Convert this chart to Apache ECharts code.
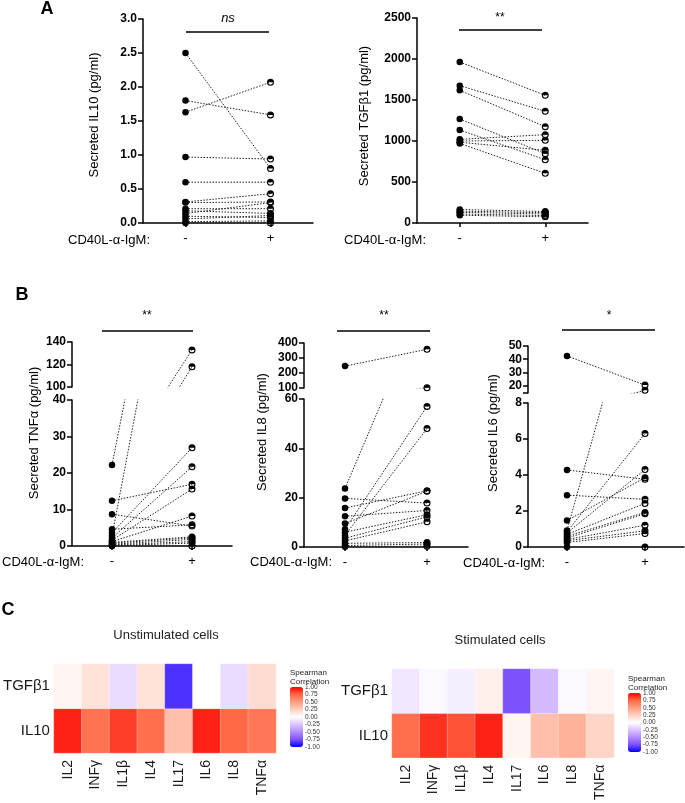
<!DOCTYPE html>
<html>
<head>
<meta charset="utf-8">
<script src="https://cdn.jsdelivr.net/npm/echarts@6/dist/echarts.min.js"></script>
<style>
html,body{margin:0;padding:0;background:#fff;}
#wrap{position:relative;width:685px;height:803px;background:#fff;}
.layer{position:absolute;left:0;top:0;width:685px;height:803px;}
</style>
</head>
<body>
<div id="wrap">
  <div class="layer" id="layerA"></div>
  <div class="layer" id="layerB"></div>
  <div class="layer" id="layerC"></div>
  <div class="layer" id="layerT"></div>
</div>
<script>
// ---------- DATA ----------
const xCategories = ['-', '+'];

// Panel A
const il10Minus = [2.50, 1.80, 1.63, 0.97, 0.60, 0.31, 0.30, 0.21, 0.18, 0.14, 0.10, 0.06, 0.02, 0.00];
const il10Plus  = [0.80, 1.59, 2.07, 0.94, 0.60, 0.43, 0.31, 0.21, 0.14, 0.30, 0.08, 0.11, 0.03, 0.00];

const tgfMinus = [1963, 1675, 1618, 1268, 1134, 1020, 1000, 985, 970, 165, 145, 130, 110, 95];
const tgfPlus  = [1557, 1362, 1175, 846, 772, 1077, 1008, 886, 606, 140, 125, 110, 90, 75];

// Panel B
const tnfMinus = [22.2, 12.4, 8.7, 4.6, 3.6, 2.8, 2.2, 1.6, 1.2, 1.0, 0.8, 0.5, 0.3, 0.1, 0];
const tnfPlus  = [133, 16.9, 5.5, 5.8, 26.9, 118, 21.7, 15.6, 8.2, 2.5, 2.2, 1.8, 1.2, 0.8, 0];

const il8Minus = [246, 23.7, 19.7, 15.8, 12.5, 9.5, 7.2, 6.0, 4.8, 3.6, 2.5, 1.5, 0.6, 0.1];
const il8Plus  = [358, 102, 17.8, 22.8, 14.8, 22.6, 57, 13.1, 48, 12.2, 10.2, 1.8, 1.2, 0.3];

const il6Minus = [42.5, 4.28, 2.88, 1.47, 0.92, 0.85, 0.78, 0.70, 0.60, 0.50, 0.42, 0.35, 0.25, 0.0];
const il6Plus  = [20.5, 3.76, 2.65, 3.85, 16.5, 6.3, 4.3, 2.42, 1.92, 1.85, 1.21, 0.90, 0.75, 0.0];
const il6TicksHigh = [20, 30, 40, 50];

// Panel C
const heatCols = ['IL2', 'INFγ', 'IL1β', 'IL4', 'IL17', 'IL6', 'IL8', 'TNFα'];
const heatRows = ['IL10', 'TGFβ1'];
const unstimTGF  = [0.05, 0.15, -0.15, 0.15, -0.85, 0.00, -0.15, 0.18];
const unstimIL10 = [0.92, 0.70, 0.85, 0.72, 0.33, 0.92, 0.75, 0.68];
const stimTGF    = [-0.10, -0.03, -0.07, 0.08, -0.75, -0.30, -0.03, 0.05];
const stimIL10   = [0.72, 0.88, 0.80, 0.92, 0.05, 0.33, 0.40, 0.22];
const corrColors = ['#0000FF', '#7E51FF', '#B38BFF', '#DCC4FF', '#FFFFFF', '#FFCFBF', '#FF9E81', '#FF6846', '#FF0000'];

// ---------- STYLE / BUILDERS ----------
const FONT = "'Liberation Sans', Arial, Helvetica, sans-serif";
const halfSym = 'path://M0,10A10,10,0,1,1,20,10A10,10,0,1,1,0,10ZM3,10A7,7,0,0,0,17,10Z';

function Builder() { this.grids = []; this.xAxes = []; this.yAxes = []; this.series = []; }
Builder.prototype.addGrid = function (g) { this.grids.push(g); return this.grids.length - 1; };
Builder.prototype.xAx = function (gi, show) {
  this.xAxes.push({
    gridIndex: gi, type: 'category', data: xCategories, boundaryGap: true, show: show, position: 'bottom',
    axisLine: { show: true, onZero: false, lineStyle: { color: '#000', width: 1.5 } },
    axisTick: { show: true, alignWithLabel: true, interval: 0, length: 4, lineStyle: { color: '#000', width: 1.5 } },
    axisLabel: { show: true, interval: 0, fontSize: 13, color: '#000', margin: 9, fontFamily: FONT },
    splitLine: { show: false }
  });
  return this.xAxes.length - 1;
};
Builder.prototype.yAx = function (gi, min, max, interval, fmt, customTicks, customLabels) {
  const ax = {
    gridIndex: gi, type: 'value', min: min, max: max,
    axisLine: { show: true, onZero: false, lineStyle: { color: '#000', width: 1.5 } },
    axisTick: { show: true, length: 5, lineStyle: { color: '#000', width: 1.5 } },
    axisLabel: { show: true, showMinLabel: true, showMaxLabel: true, hideOverlap: false,
      formatter: fmt || (v => String(v)), fontSize: 12, fontWeight: 'bold', color: '#000', margin: 6, fontFamily: FONT },
    splitLine: { show: false }
  };
  if (interval != null) ax.interval = interval;
  if (customTicks) { ax.axisTick.customValues = customTicks; ax.axisLabel.customValues = customLabels; }
  this.yAxes.push(ax);
  return this.yAxes.length - 1;
};
Builder.prototype.addPairs = function (minus, plus, xi, yi) {
  const self = this;
  minus.forEach((m, i) => {
    self.series.push({
      type: 'line', xAxisIndex: xi, yAxisIndex: yi, data: [m, plus[i]],
      symbol: 'none', clip: true, silent: true, z: 2,
      lineStyle: { color: '#222', width: 1, type: [1.5, 1.5] }
    });
  });
  this.series.push({
    type: 'scatter', xAxisIndex: xi, yAxisIndex: yi, data: minus.map(v => [0, v]),
    symbol: 'circle', symbolSize: 6.5, clip: true, silent: true, z: 3,
    itemStyle: { color: '#000', opacity: 1 }
  });
  this.series.push({
    type: 'scatter', xAxisIndex: xi, yAxisIndex: yi, data: plus.map(v => [1, v]),
    symbol: halfSym, symbolSize: 7, clip: true, silent: true, z: 3,
    itemStyle: { color: '#000', opacity: 1 }
  });
};
Builder.prototype.render = function (id, extra) {
  const ch = echarts.init(document.getElementById(id), null, { renderer: 'canvas' });
  ch.setOption(Object.assign({
    backgroundColor: 'transparent', animation: false, textStyle: { fontFamily: FONT },
    grid: this.grids, xAxis: this.xAxes, yAxis: this.yAxes, series: this.series
  }, extra || {}));
};

// ---------- Panel A ----------
const bA = new Builder();
{
  const g = bA.addGrid({ left: 143, top: 19, width: 170, height: 204 });
  const xi = bA.xAx(g, true);
  const yi = bA.yAx(g, 0, 3, 0.5, v => v.toFixed(1));
  bA.addPairs(il10Minus, il10Plus, xi, yi);
}
{
  const g = bA.addGrid({ left: 417, top: 18, width: 171, height: 205 });
  const xi = bA.xAx(g, true);
  const yi = bA.yAx(g, 0, 2500, 500);
  bA.addPairs(tgfMinus, tgfPlus, xi, yi);
}
bA.render('layerA');

// ---------- Panel B (broken axes: upper + lower grid) ----------
const bB = new Builder();
function broken(left, width, up, low, minus, plus) {
  const gu = bB.addGrid({ left: left, top: up.top, width: width, height: up.height });
  const xu = bB.xAx(gu, false);
  const yu = bB.yAx(gu, up.min, up.max, up.interval, null, up.ticks, up.labels);
  const gl = bB.addGrid({ left: left, top: low.top, width: width, height: low.height });
  const xl = bB.xAx(gl, true);
  const yl = bB.yAx(gl, low.min, low.max, low.interval);
  bB.addPairs(minus, plus, xu, yu);
  bB.addPairs(minus, plus, xl, yl);
}
broken(72, 160,
  { top: 342, height: 45, min: 100, max: 140, interval: 10 },
  { top: 400, height: 146, min: 0, max: 40, interval: 10 },
  tnfMinus, tnfPlus);
broken(304, 164,
  { top: 343, height: 45, min: 100, max: 400, interval: 100 },
  { top: 399, height: 148, min: 0, max: 60, interval: 20 },
  il8Minus, il8Plus);
broken(528, 156,
  { top: 346, height: 47, min: 14.5, max: 50, interval: null, ticks: [14.5].concat(il6TicksHigh), labels: il6TicksHigh },
  { top: 403, height: 144, min: 0, max: 8, interval: 2 },
  il6Minus, il6Plus);
bB.render('layerB');

// ---------- Panel C heatmaps ----------
const bC = new Builder();
function heat(left, top, width, height, tgf, il10) {
  const g = bC.addGrid({ left: left, top: top, width: width, height: height });
  bC.xAxes.push({
    gridIndex: g, type: 'category', data: heatCols,
    axisLine: { show: false }, axisTick: { show: false }, splitLine: { show: false },
    axisLabel: { rotate: 90, fontSize: 14, fontFamily: FONT, color: '#1a1a1a', margin: 7, interval: 0 }
  });
  bC.yAxes.push({
    gridIndex: g, type: 'category', data: heatRows,
    axisLine: { show: false }, axisTick: { show: false }, splitLine: { show: false },
    axisLabel: { fontSize: 15, fontFamily: FONT, color: '#1a1a1a', margin: 4 }
  });
  const data = [];
  heatCols.forEach((c, i) => { data.push([i, 0, il10[i]]); data.push([i, 1, tgf[i]]); });
  bC.series.push({
    type: 'heatmap', xAxisIndex: bC.xAxes.length - 1, yAxisIndex: bC.yAxes.length - 1, data: data,
    silent: true, itemStyle: { borderColor: 'rgba(255,255,255,0.5)', borderWidth: 0.5 }
  });
  return bC.series.length - 1;
}
const hL = heat(53, 664, 223, 89, unstimTGF, unstimIL10);
const hR = heat(392, 669, 222, 89, stimTGF, stimIL10);
function legendAxis(left, top, height) {
  const g = bC.addGrid({ left: left, top: top, width: 13, height: height });
  bC.xAxes.push({ gridIndex: g, type: 'value', min: 1, max: 2, show: false });
  bC.yAxes.push({
    gridIndex: g, type: 'value', min: -1, max: 1, interval: 0.25, position: 'right',
    axisLine: { show: false }, axisTick: { show: false }, splitLine: { show: false },
    axisLabel: { showMinLabel: true, showMaxLabel: true, fontSize: 6.5, margin: 2, color: '#333', fontFamily: FONT, formatter: v => v.toFixed(2) }
  });
}
legendAxis(290, 687, 60);
legendAxis(628, 693, 59);
bC.render('layerC', {
  visualMap: [
    { type: 'continuous', seriesIndex: hL, min: -1, max: 1, left: 290, top: 687, itemWidth: 13, itemHeight: 60, padding: 0, calculable: false, inRange: { color: corrColors } },
    { type: 'continuous', seriesIndex: hR, min: -1, max: 1, left: 628, top: 693, itemWidth: 13, itemHeight: 59, padding: 0, calculable: false, inRange: { color: corrColors } }
  ]
});

// ---------- annotations ----------
function txt(x, y, text, font, align, fill) {
  return { type: 'text', x: x, y: y, silent: true, z: 100,
    style: { text: text, font: font, fill: fill || '#000', textAlign: align || 'center', textVerticalAlign: 'middle' } };
}
function vtxt(x, y, text) {
  const t = txt(x, y, text, '13px ' + FONT);
  t.rotation = Math.PI / 2;
  return t;
}
function bar(x1, x2, y) {
  return { type: 'line', silent: true, z: 100, shape: { x1: x1, y1: y, x2: x2, y2: y }, style: { stroke: '#000', lineWidth: 1.5 } };
}
const graphics = [
  txt(47, 9, 'A', 'bold 18px ' + FONT),
  txt(22, 295, 'B', 'bold 18px ' + FONT),
  txt(8, 610, 'C', 'bold 18px ' + FONT),
  vtxt(94, 115, 'Secreted IL10 (pg/ml)'),
  vtxt(364, 116, 'Secreted TGFβ1 (pg/ml)'),
  vtxt(34, 433, 'Secreted TNFα (pg/ml)'),
  vtxt(262, 432, 'Secreted IL8 (pg/ml)'),
  vtxt(493, 433, 'Secreted IL6 (pg/ml)'),
  txt(150, 240, 'CD40L-α-IgM:', '13px ' + FONT, 'right'),
  txt(426, 240, 'CD40L-α-IgM:', '13px ' + FONT, 'right'),
  txt(84, 562, 'CD40L-α-IgM:', '13px ' + FONT, 'right'),
  txt(332, 562, 'CD40L-α-IgM:', '13px ' + FONT, 'right'),
  txt(545, 563, 'CD40L-α-IgM:', '13px ' + FONT, 'right'),
  bar(186, 269, 32), txt(228, 18, 'ns', 'italic 13px ' + FONT),
  bar(459, 542, 30), txt(500, 18, '**', '12px ' + FONT),
  bar(102, 193, 331), txt(147, 316, '**', '12px ' + FONT),
  bar(337, 430, 331), txt(384, 316, '**', '12px ' + FONT),
  bar(562, 655, 330), txt(609, 316, '*', '12px ' + FONT),
  txt(166, 635, 'Unstimulated cells', '13px ' + FONT, 'center', '#222'),
  txt(500, 640, 'Stimulated cells', '13px ' + FONT, 'center', '#222'),
  txt(290, 673, 'Spearman', '8px ' + FONT, 'left', '#222'),
  txt(290, 682, 'Correlation', '8px ' + FONT, 'left', '#222'),
  txt(628, 679, 'Spearman', '8px ' + FONT, 'left', '#222'),
  txt(628, 688, 'Correlation', '8px ' + FONT, 'left', '#222')
];
const chT = echarts.init(document.getElementById('layerT'), null, { renderer: 'canvas' });
chT.setOption({ backgroundColor: 'transparent', animation: false, graphic: { elements: graphics } });
</script>
</body>
</html>
